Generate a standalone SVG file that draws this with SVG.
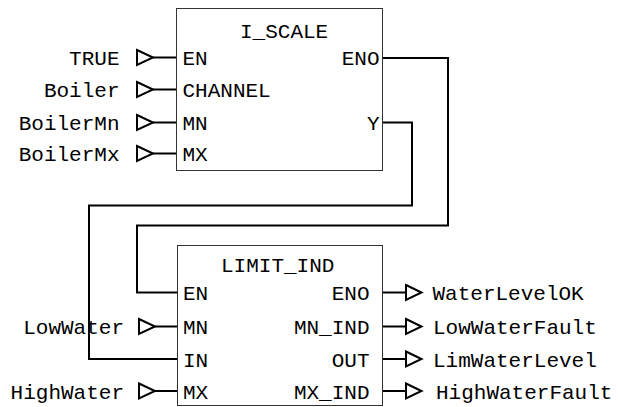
<svg xmlns="http://www.w3.org/2000/svg" width="618" height="407" viewBox="0 0 618 407">
<defs>
<style>
text{font-family:"Liberation Mono","Courier New",monospace;font-size:21px;fill:#000}
.box{fill:#fff;stroke:#333;stroke-width:1}
.w{fill:none;stroke:#000;stroke-width:2}
.tri{fill:#fff;stroke:#000;stroke-width:2;stroke-linejoin:miter}
.e{text-anchor:end}
</style>
</defs>
<rect width="618" height="407" fill="#fff"/>
<g id="connectors">
<polyline class="w" points="382.5,58 448,58 448,225.5 137,225.5 137,292.5 177.5,292.5"/>
<polyline class="w" points="382.5,122.5 412,122.5 412,205.5 89,205.5 89,359 177.5,359"/>
<line class="w" x1="153" y1="57.5" x2="176.5" y2="57.5"/>
<line class="w" x1="153" y1="89.5" x2="176.5" y2="89.5"/>
<line class="w" x1="153" y1="122.5" x2="176.5" y2="122.5"/>
<line class="w" x1="153" y1="153.5" x2="176.5" y2="153.5"/>
<line class="w" x1="155" y1="326.5" x2="177.5" y2="326.5"/>
<line class="w" x1="155" y1="391" x2="177.5" y2="391"/>
<line class="w" x1="382.5" y1="292.5" x2="406" y2="292.5"/>
<line class="w" x1="382.5" y1="326.5" x2="406" y2="326.5"/>
<line class="w" x1="382.5" y1="359" x2="406" y2="359"/>
<line class="w" x1="382.5" y1="391" x2="406" y2="391"/>
</g>
<g id="I_SCALE">
<rect class="box" x="176.5" y="8.5" width="206" height="162"/>
<text x="240" y="37.5">I_SCALE</text>
<text x="182.5" y="65">EN</text>
<text x="182.5" y="97">CHANNEL</text>
<text x="182.5" y="130">MN</text>
<text x="182.5" y="161">MX</text>
<text class="e" x="379.5" y="65">ENO</text>
<text class="e" x="379.5" y="130">Y</text>
</g>
<g id="LIMIT_IND">
<rect class="box" x="177.5" y="245.5" width="205" height="160"/>
<text x="221" y="272">LIMIT_IND</text>
<text x="183" y="300">EN</text>
<text x="183" y="334">MN</text>
<text x="183" y="366.5">IN</text>
<text x="183" y="398.5">MX</text>
<text class="e" x="369.5" y="300">ENO</text>
<text class="e" x="369.5" y="334">MN_IND</text>
<text class="e" x="369.5" y="366.5">OUT</text>
<text class="e" x="369.5" y="398.5">MX_IND</text>
</g>
<g id="in_TRUE"><polygon class="tri" points="137,50 153,57.5 137,65"/><text class="e" x="119.5" y="65">TRUE</text></g>
<g id="in_Boiler"><polygon class="tri" points="137,82 153,89.5 137,97"/><text class="e" x="119.5" y="97">Boiler</text></g>
<g id="in_BoilerMn"><polygon class="tri" points="137,115 153,122.5 137,130"/><text class="e" x="119.5" y="130">BoilerMn</text></g>
<g id="in_BoilerMx"><polygon class="tri" points="137,146 153,153.5 137,161"/><text class="e" x="119.5" y="161">BoilerMx</text></g>
<g id="in_LowWater"><polygon class="tri" points="139,319 155,326.5 139,334"/><text class="e" x="124" y="334">LowWater</text></g>
<g id="in_HighWater"><polygon class="tri" points="139,383.5 155,391 139,398.5"/><text class="e" x="124" y="398.5">HighWater</text></g>
<g id="out_WaterLevelOK"><polygon class="tri" points="406,285 421.5,292.5 406,300"/><text x="432.5" y="300">WaterLevelOK</text></g>
<g id="out_LowWaterFault"><polygon class="tri" points="406,319 421.5,326.5 406,334"/><text x="433" y="334">LowWaterFault</text></g>
<g id="out_LimWaterLevel"><polygon class="tri" points="406,351.5 421.5,359 406,366.5"/><text x="433" y="366.5">LimWaterLevel</text></g>
<g id="out_HighWaterFault"><polygon class="tri" points="406,383.5 421.5,391 406,398.5"/><text x="436" y="398.5">HighWaterFault</text></g>
</svg>
